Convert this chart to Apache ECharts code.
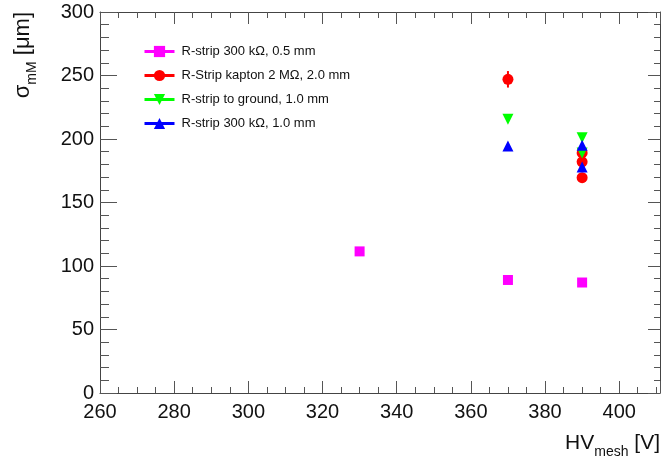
<!DOCTYPE html>
<html>
<head>
<meta charset="utf-8">
<script src="https://cdn.jsdelivr.net/npm/echarts@6/dist/echarts.min.js"></script>
<style>html,body{margin:0;padding:0;background:#fff}#c{width:663px;height:465px}</style>
</head>
<body>
<div id="c"></div>
<script>
// Data
var names = ['R-strip 300 kΩ, 0.5 mm', 'R-Strip kapton 2 MΩ, 2.0 mm', 'R-strip to ground, 1.0 mm', 'R-strip 300 kΩ, 1.0 mm'];
var magX = [330, 370, 390];
var magY = [111.5, 89, 87];
var magE = [1, 1, 1];
var redX = [370, 390, 390, 390];
var redY = [247, 189, 182, 169.5];
var redE = [6.5, 2, 2, 2];
var grnX = [370, 390, 390];
var grnY = [215.5, 201, 189];
var grnE = [2, 1.5, 1.5];
var bluX = [370, 390, 390];
var bluY = [194.5, 195, 178];
var bluE = [1.5, 1.5, 1.5];
var xTicks = [260, 280, 300, 320, 340, 360, 380, 400];
var yTicks = [0, 50, 100, 150, 200, 250, 300];

var colors = ['#ff00ff', '#ff0000', '#00ff00', '#0000ff'];
var symbols = ['rect', 'circle', 'triangle', 'triangle'];
var rotates = [0, 0, 180, 0];
var sizes = [10, 11, 11, 11];
var sets = [[magX, magY, magE], [redX, redY, redE], [grnX, grnY, grnE], [bluX, bluY, bluE]];

var chart = echarts.init(document.getElementById('c'), null, {renderer: 'canvas'});
var series = [];
sets.forEach(function (s, i) {
  var pts = s[0].map(function (x, k) { return [x, s[1][k], s[2][k]]; });
  series.push({
    type: 'custom', name: names[i] + '_err', xAxisIndex: 0, yAxisIndex: 0, z: 2,
    data: pts, silent: true,
    renderItem: function (params, api) {
      var p1 = api.coord([api.value(0), api.value(1) - api.value(2)]);
      var p2 = api.coord([api.value(0), api.value(1) + api.value(2)]);
      return {type: 'line', shape: {x1: p1[0], y1: p1[1], x2: p2[0], y2: p2[1]},
        style: {stroke: colors[i], lineWidth: 2}};
    }
  });
  series.push({
    type: 'line', name: names[i], xAxisIndex: 0, yAxisIndex: 0, z: 3 + i,
    data: pts.map(function (p) { return [p[0], p[1]]; }),
    symbol: symbols[i], symbolSize: sizes[i], symbolRotate: rotates[i],
    showAllSymbol: true,
    color: colors[i],
    itemStyle: {color: colors[i], opacity: 1},
    lineStyle: {width: 0, opacity: 0},
    animation: false
  });
});

var axisCol = '#444';
var tickCol = '#555';
var fontFam = 'Liberation Sans, Arial, sans-serif';

var option = {
  animation: false,
  backgroundColor: '#fff',
  grid: {left: 100, right: 3, top: 12, bottom: 72, containLabel: false},
  legend: {
    data: names, orient: 'vertical', left: 143, top: 44.5, padding: 0,
    itemWidth: 30, itemHeight: 14, itemGap: 10,
    textStyle: {fontSize: 13, lineHeight: 14, fontFamily: fontFam, color: '#111', padding: [0, 0, 0, 2]},
    lineStyle: {width: 3, opacity: 1},
    selectedMode: false
  },
  xAxis: [{
    type: 'value', min: xTicks[0], max: 411, interval: 20, position: 'bottom',
    axisLine: {show: true, onZero: false, lineStyle: {color: axisCol, width: 1}},
    axisTick: {show: true, inside: true, length: 12, lineStyle: {color: tickCol}},
    minorTick: {show: true, splitNumber: 4, length: 6, lineStyle: {color: tickCol}},
    splitLine: {show: false},
    axisLabel: {fontSize: 20, fontFamily: fontFam, color: '#111', margin: 9, showMaxLabel: false,
      formatter: function (v) { return xTicks.indexOf(v) >= 0 ? String(v) : ''; }}
  }, {
    type: 'value', min: xTicks[0], max: 411, interval: 20, position: 'top',
    axisLine: {show: true, onZero: false, lineStyle: {color: axisCol, width: 1}},
    axisTick: {show: true, inside: true, length: 12, lineStyle: {color: tickCol}},
    minorTick: {show: true, splitNumber: 4, length: 6, lineStyle: {color: tickCol}},
    splitLine: {show: false}, axisLabel: {show: false}
  }],
  yAxis: [{
    type: 'value', min: yTicks[0], max: 300, interval: 50, position: 'left',
    axisLine: {show: true, onZero: false, lineStyle: {color: axisCol, width: 1}},
    axisTick: {show: true, inside: true, length: 17, lineStyle: {color: tickCol}},
    minorTick: {show: true, splitNumber: 5, length: 9, lineStyle: {color: tickCol}},
    splitLine: {show: false},
    axisLabel: {fontSize: 20, fontFamily: fontFam, color: '#111', margin: 6,
      formatter: function (v) { return yTicks.indexOf(v) >= 0 ? String(v) : ''; }}
  }, {
    type: 'value', min: yTicks[0], max: 300, interval: 50, position: 'right',
    axisLine: {show: true, onZero: false, lineStyle: {color: axisCol, width: 1}},
    axisTick: {show: true, inside: true, length: 12, lineStyle: {color: tickCol}},
    minorTick: {show: true, splitNumber: 5, length: 6, lineStyle: {color: tickCol}},
    splitLine: {show: false}, axisLabel: {show: false}
  }],
  graphic: [{
    type: 'text', x: 21, y: 12, rotation: Math.PI / 2,
    style: {
      text: '{a|σ}{s|mM}{a| [μm]}', align: 'right', verticalAlign: 'middle',
      rich: {
        a: {fontSize: 22, fontFamily: fontFam, fill: '#111', lineHeight: 26, verticalAlign: 'bottom'},
        s: {fontSize: 14, fontFamily: fontFam, fill: '#111', lineHeight: 26, verticalAlign: 'bottom', padding: [0, 0, -5, 0]}
      }
    }
  }, {
    type: 'text', x: 660, y: 442,
    style: {
      text: '{a|HV}{s|mesh}{a| [V]}', align: 'right', verticalAlign: 'middle',
      rich: {
        a: {fontSize: 21, fontFamily: fontFam, fill: '#111', lineHeight: 24, verticalAlign: 'bottom'},
        s: {fontSize: 14, fontFamily: fontFam, fill: '#111', lineHeight: 24, verticalAlign: 'bottom', padding: [0, 0, -5, 0]}
      }
    }
  }],
  series: series
};
chart.setOption(option);
</script>
</body>
</html>
